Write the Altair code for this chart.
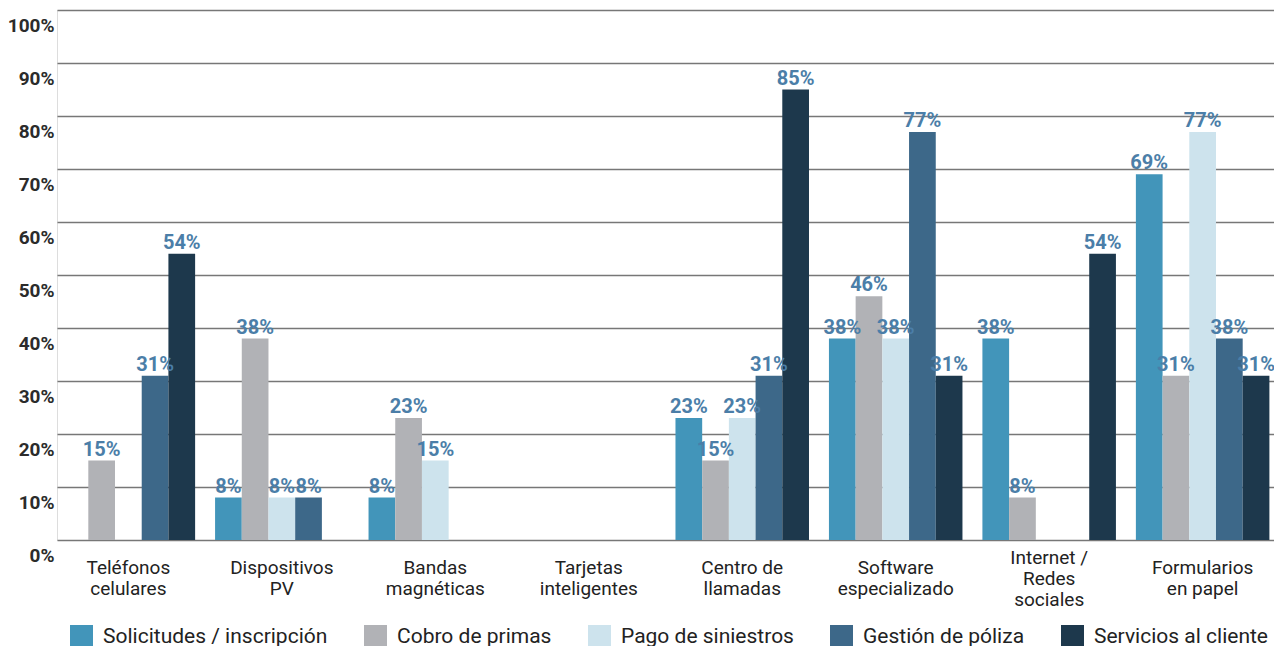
import altair as alt
import pandas as pd

categories = ["Teléfonos|celulares", "Dispositivos|PV", "Bandas|magnéticas",
              "Tarjetas|inteligentes", "Centro de|llamadas", "Software|especializado",
              "Internet /|Redes|sociales", "Formularios|en papel"]
series = ["Solicitudes / inscripción", "Cobro de primas", "Pago de siniestros",
          "Gestión de póliza", "Servicios al cliente"]
colors = ["#4295ba", "#b1b2b6", "#cde3ed", "#3d6889", "#1d384c"]

solicitudes = [0, 8, 8, 0, 23, 38, 38, 69]
cobro = [15, 38, 23, 0, 15, 46, 8, 31]
pago = [0, 8, 15, 0, 23, 38, 0, 77]
gestion = [31, 8, 0, 0, 31, 77, 0, 38]
servicios = [54, 0, 0, 0, 85, 31, 54, 31]

y_ticks = [0, 10, 20, 30, 40, 50, 60, 70, 80, 90, 100]

rows = []
for s, vals in zip(series, [solicitudes, cobro, pago, gestion, servicios]):
    for c, v in zip(categories, vals):
        rows.append({"cat": c, "serie": s, "value": v})
df = pd.DataFrame(rows)

FONT = "Roboto"

base = alt.Chart(df).encode(
    x=alt.X("cat:N", sort=categories,
            scale=alt.Scale(paddingInner=0.13, paddingOuter=0.03),
            axis=alt.Axis(title=None, ticks=False, domain=False, labelAngle=0,
                          labelExpr="split(datum.label, '|')",
                          labelFontSize=19, labelColor="#222222", labelFont=FONT,
                          labelBaseline="middle", labelLineHeight=21,
                          labelPadding={"condition": {"test": "length(split(datum.label, '|')) > 2",
                                                      "value": 17},
                                        "value": 27})),
    xOffset=alt.XOffset("serie:N", sort=series),
    y=alt.Y("value:Q", scale=alt.Scale(domain=[0, 100]),
            axis=alt.Axis(title=None, values=y_ticks, ticks=False, domain=False,
                          labelExpr="datum.value + '%'",
                          labelFontSize=19, labelFontWeight="bold", labelColor="#2b2b2b",
                          labelFont=FONT, labelBaseline="top", labelOffset=6, labelPadding=3,
                          grid=True, gridColor="#777777", gridWidth=1.5)),
)

bars = base.mark_bar().encode(
    color=alt.Color("serie:N", sort=series,
                    scale=alt.Scale(domain=series, range=colors),
                    legend=alt.Legend(title=None, orient="none", legendX=13, legendY=615,
                                      direction="horizontal", symbolType="square",
                                      symbolSize=529, symbolStrokeWidth=0,
                                      labelFontSize=21, labelColor="#222222", labelFont=FONT,
                                      labelOffset=10, columnPadding=36, labelLimit=400))
)

labels = base.transform_filter("datum.value > 0").transform_calculate(
    lbl="datum.value + '%'"
).mark_text(baseline="bottom", dy=-1, fontWeight="bold", fontSize=20,
            color="#4b7ea8", font=FONT).encode(text="lbl:N")

chart = alt.layer(bars, labels).properties(
    width=1217, height=530,
    autosize=alt.AutoSizeParams(type="none"),
    padding={"left": 49, "top": 2, "right": 0, "bottom": 106},
).configure_view(stroke=None).configure(font=FONT)

chart.save("out.html", embed_options={"renderer": "svg", "actions": False})
